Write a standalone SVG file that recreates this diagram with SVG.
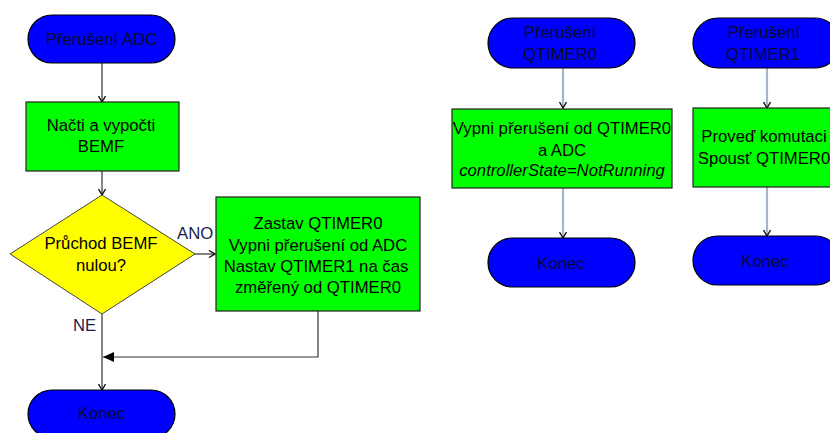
<svg xmlns="http://www.w3.org/2000/svg" width="830" height="433" viewBox="0 0 830 433">
<defs>
<style>
text{font-family:"Liberation Sans",Arial,sans-serif;font-size:16.7px;fill:#000;text-anchor:middle}
.term{fill:#0000ff;stroke:#000;stroke-width:1.2}
.proc{fill:#00ff00;stroke:#222;stroke-width:1.2}
.dec{fill:#ffff00;stroke:#444;stroke-width:1}
.conn{fill:none;stroke:#333;stroke-width:1.2}
.conn2{fill:none;stroke:#a7b6c4;stroke-width:2.2}
.lbl{fill:#1c1c50;text-anchor:start}
.tt{fill:#0a0a30}
</style>
<marker id="v" markerWidth="8" markerHeight="8" refX="7" refY="4" orient="auto" markerUnits="userSpaceOnUse">
<path d="M1,0.5 L7,4 L1,7.5" fill="none" stroke="#111" stroke-width="1.4"/>
</marker>
<marker id="tri" markerWidth="12" markerHeight="10" refX="11" refY="5" orient="auto" markerUnits="userSpaceOnUse">
<path d="M0,0 L11,5 L0,10 Z" fill="#000"/>
</marker>
</defs>

<g id="connectors">
<line class="conn" x1="102" y1="63" x2="102" y2="102" marker-end="url(#v)"/>
<line class="conn" x1="102" y1="171" x2="102" y2="195" marker-end="url(#v)"/>
<line class="conn" x1="195" y1="254" x2="215" y2="254" marker-end="url(#v)"/>
<polyline class="conn" points="318,302 318,357 103,357" marker-end="url(#tri)"/>
<line class="conn" x1="102" y1="314" x2="102" y2="390" marker-end="url(#v)"/>
<line class="conn2" x1="563" y1="68" x2="563" y2="108" marker-end="url(#v)"/>
<line class="conn2" x1="563" y1="188" x2="563" y2="238" marker-end="url(#v)"/>
<line class="conn2" x1="767" y1="68" x2="767" y2="108" marker-end="url(#v)"/>
<line class="conn2" x1="767" y1="187" x2="767" y2="236" marker-end="url(#v)"/>
<text class="lbl" x="177" y="239">ANO</text>
<text class="lbl" x="73" y="331">NE</text>
</g>

<g id="start_adc">
<rect class="term" x="28" y="15" width="147" height="48" rx="24"/>
<text class="tt" x="101.5" y="45">Přerušení ADC</text>
</g>

<g id="read_bemf">
<rect class="proc" x="26" y="102" width="153" height="69"/>
<text x="101" y="131">Načti a vypočti</text>
<text x="101" y="152">BEMF</text>
</g>

<g id="zero_cross">
<polygon class="dec" points="102,195 195,254 102,314 10,254"/>
<text x="101" y="249">Průchod BEMF</text>
<text x="101" y="271">nulou?</text>
</g>

<g id="stop_qtimer0">
<rect class="proc" x="216" y="197" width="204" height="114"/>
<text x="318" y="229">Zastav QTIMER0</text>
<text x="318" y="251">Vypni přerušení od ADC</text>
<text x="316" y="272">Nastav QTIMER1 na čas</text>
<text x="318" y="293">změřený od QTIMER0</text>
</g>

<g id="end_adc">
<rect class="term" x="28" y="390" width="147" height="48" rx="24"/>
<text class="tt" x="101.5" y="419">Konec</text>
</g>

<g id="start_qtimer0">
<rect class="term" x="488" y="18" width="147" height="50" rx="25"/>
<text class="tt" x="560" y="38">Přerušení</text>
<text class="tt" x="560" y="60">QTIMER0</text>
</g>

<g id="disable_irq">
<rect class="proc" x="452" y="109" width="220" height="79"/>
<text x="562" y="134">Vypni přerušení od QTIMER0</text>
<text x="562" y="156">a ADC</text>
<text x="562" y="176" font-style="italic">controllerState=NotRunning</text>
</g>

<g id="end_qtimer0">
<rect class="term" x="488" y="238" width="147" height="49" rx="24.5"/>
<text class="tt" x="561" y="269">Konec</text>
</g>

<g id="start_qtimer1">
<rect class="term" x="693" y="18" width="147" height="50" rx="25"/>
<text class="tt" x="764" y="38">Přerušení</text>
<text class="tt" x="763" y="60">QTIMER1</text>
</g>

<g id="commutation">
<rect class="proc" x="693" y="108" width="150" height="79"/>
<text x="764" y="142">Proveď komutaci</text>
<text x="764" y="164">Spousť QTIMER0</text>
</g>

<g id="end_qtimer1">
<rect class="term" x="693" y="236" width="147" height="49" rx="24.5"/>
<text class="tt" x="765" y="267">Konec</text>
</g>
</svg>
